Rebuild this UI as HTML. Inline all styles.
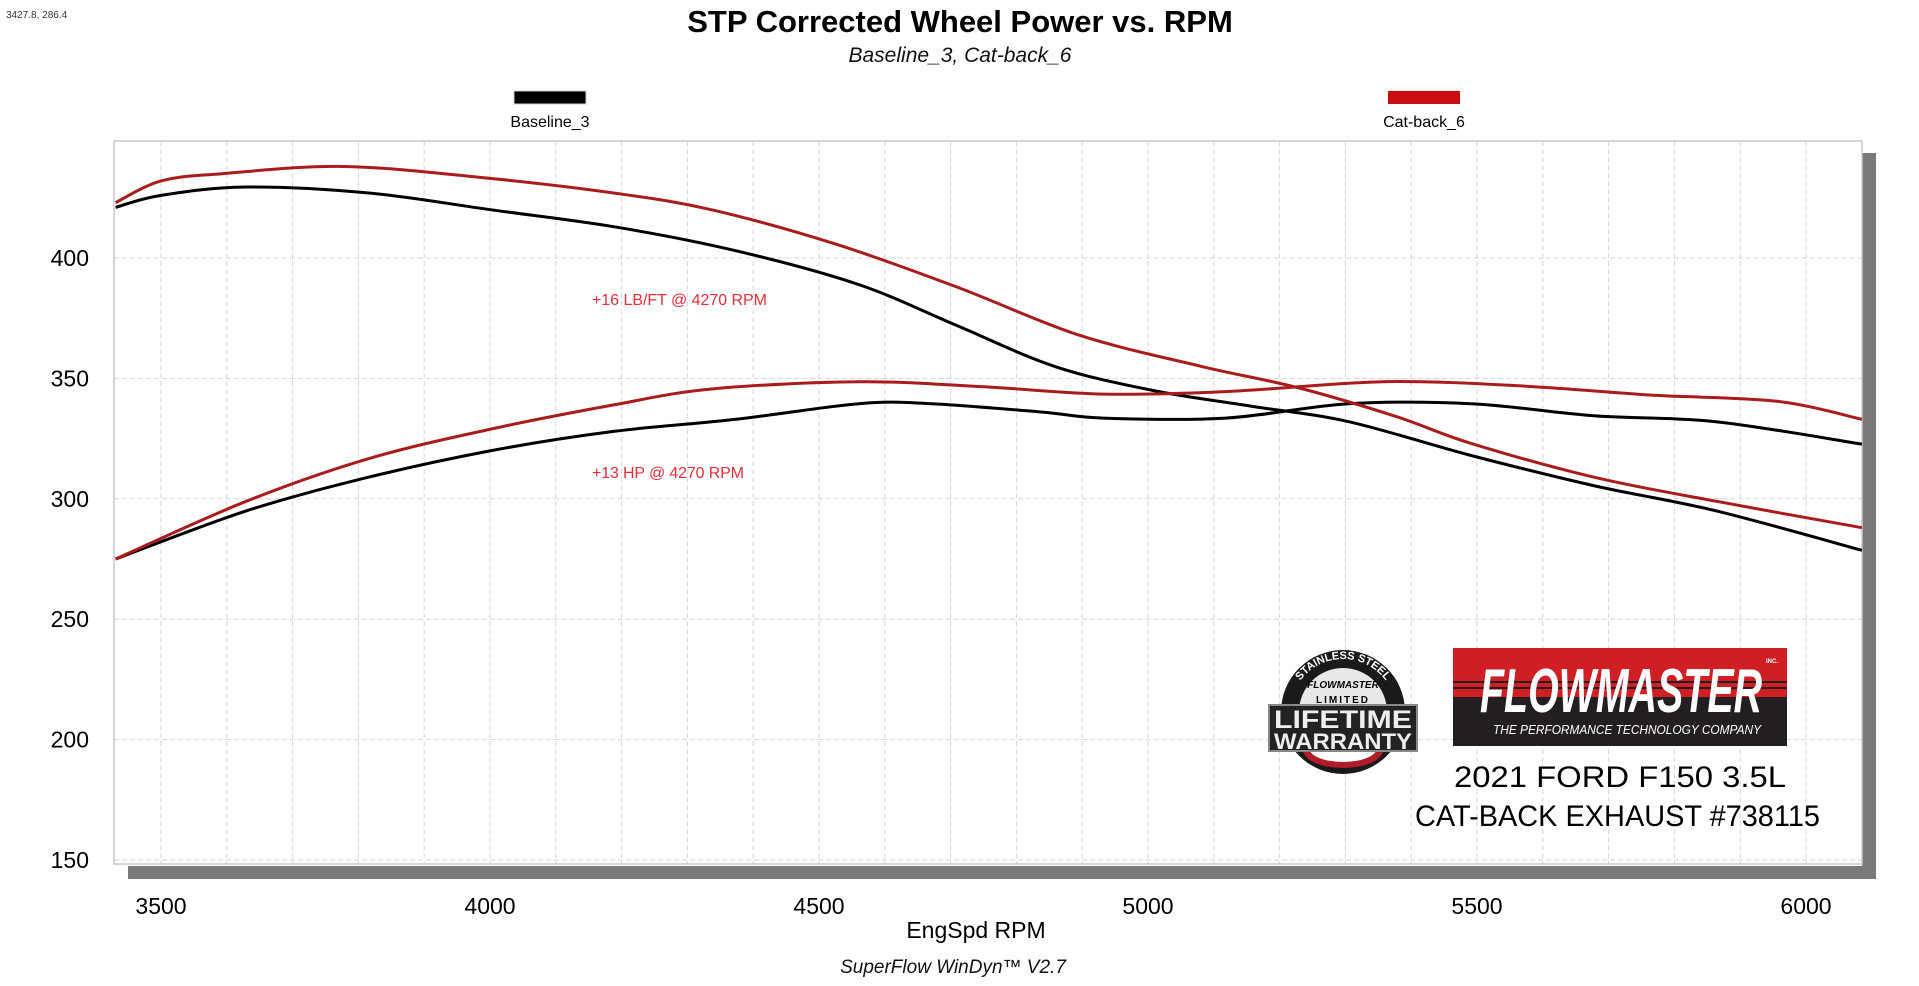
<!DOCTYPE html>
<html><head><meta charset="utf-8"><style>
html,body{margin:0;padding:0;background:#fff;}
body{width:1919px;height:981px;overflow:hidden;}
svg text{font-family:"Liberation Sans",sans-serif;}
</style></head><body>
<svg id="s" width="1919" height="981" viewBox="0 0 1919 981" xmlns="http://www.w3.org/2000/svg">
<rect width="1919" height="981" fill="#fff"/>
<text x="6" y="18" font-size="10" fill="#333">3427.8, 286.4</text>
<text x="960" y="32" font-size="31" font-weight="bold" text-anchor="middle" fill="#000">STP Corrected Wheel Power vs. RPM</text>
<text x="960" y="62" font-size="21" font-style="italic" text-anchor="middle" fill="#111">Baseline_3, Cat-back_6</text>
<rect x="514" y="91" width="72" height="13" fill="#000" stroke="#ccc" stroke-width="1"/>
<text x="550" y="127" font-size="16" text-anchor="middle" fill="#000">Baseline_3</text>
<rect x="1388" y="91" width="72" height="13" fill="#cc0e0e"/>
<text x="1424" y="127" font-size="16" text-anchor="middle" fill="#000">Cat-back_6</text>
<rect x="1862" y="153" width="14" height="726" fill="#7a7a7a"/>
<rect x="128" y="866" width="1748" height="13" fill="#7a7a7a"/>
<g id="grid"></g>
<rect x="114" y="141" width="1748" height="723" fill="none" stroke="#c8c8c8" stroke-width="1.5"/>
<g id="labels" font-size="23" fill="#000"></g>
<text x="976" y="938" font-size="23" text-anchor="middle" fill="#000">EngSpd  RPM</text>
<text x="953" y="973" font-size="19" font-style="italic" text-anchor="middle" fill="#111">SuperFlow WinDyn™ V2.7</text>
<text x="592" y="305" font-size="16" fill="#e0303c" textLength="175">+16 LB/FT @ 4270 RPM</text>
<text x="592" y="478" font-size="16" fill="#e0303c" textLength="152">+13 HP @ 4270 RPM</text>
<g id="curves" fill="none" stroke-width="3" stroke-linejoin="round"></g>
<defs><path id="arc" d="M1290,712 A53,53 0 0 1 1396,712"/></defs>
<g>
<ellipse cx="1343" cy="712" rx="62" ry="62" fill="#1a1a1a"/>
<ellipse cx="1343" cy="712" rx="44" ry="44" fill="#e8e8e8"/>
<ellipse cx="1343" cy="750" rx="40" ry="18" fill="#b01c2a"/>
<ellipse cx="1343" cy="748" rx="34" ry="14" fill="#fff"/>
<text font-size="11" font-weight="bold" fill="#fff"><textPath href="#arc" startOffset="50%" text-anchor="middle">STAINLESS STEEL</textPath></text>
<text x="1343" y="688" font-size="10" font-style="italic" font-weight="bold" text-anchor="middle" fill="#000">FLOWMASTER</text>
<text x="1343" y="703" font-size="10" font-weight="bold" text-anchor="middle" fill="#000" letter-spacing="2">LIMITED</text>
<rect x="1269" y="705" width="148" height="46" fill="#222" stroke="#888" stroke-width="2"/>
<text x="1343" y="728" font-size="25" font-weight="bold" text-anchor="middle" fill="#eee" textLength="138" lengthAdjust="spacingAndGlyphs">LIFETIME</text>
<text x="1343" y="749" font-size="22" font-weight="bold" text-anchor="middle" fill="#eee" textLength="138" lengthAdjust="spacingAndGlyphs">WARRANTY</text>
</g>
<g>
<rect x="1453" y="648" width="334" height="98" fill="#cf1f25"/>
<rect x="1453" y="697" width="334" height="49" fill="#231f20"/>
<rect x="1453" y="681" width="334" height="2" fill="#231f20"/>
<rect x="1453" y="687" width="334" height="2" fill="#231f20"/>
<text x="1480" y="712" font-size="62" font-weight="bold" font-style="italic" fill="#fff" textLength="282" lengthAdjust="spacingAndGlyphs">FLOWMASTER</text>
<text x="1493" y="734" font-size="13" font-style="italic" fill="#fff" textLength="268" lengthAdjust="spacingAndGlyphs">THE PERFORMANCE TECHNOLOGY COMPANY</text>
<text x="1766" y="663" font-size="6" font-weight="bold" fill="#fff">INC.</text>
</g>
<text x="1454" y="787" font-size="30" fill="#000" textLength="332" lengthAdjust="spacingAndGlyphs">2021 FORD F150 3.5L</text>
<text x="1415" y="826" font-size="30" fill="#000" textLength="405" lengthAdjust="spacingAndGlyphs">CAT-BACK EXHAUST #738115</text>
</svg>
<script>
var NS="http://www.w3.org/2000/svg";
function X(r){return 161+(r-3500)*0.658;}
function Y(v){return 860-(v-150)*2.408;}
function el(t,a,p){var e=document.createElementNS(NS,t);for(var k in a)e.setAttribute(k,a[k]);p.appendChild(e);return e;}
var g=document.getElementById('grid');
for(var r=3500;r<=6000;r+=100){el('line',{x1:X(r),x2:X(r),y1:141,y2:864,stroke:'#d6d6d6','stroke-width':1,'stroke-dasharray':'5,3'},g);}
for(var v=150;v<=400;v+=50){el('line',{x1:114,x2:1862,y1:Y(v),y2:Y(v),stroke:'#d6d6d6','stroke-width':1,'stroke-dasharray':'5,3'},g);}
var L=document.getElementById('labels');
for(var v=150;v<=400;v+=50){var t=el('text',{x:89,y:Y(v)+8,'text-anchor':'end'},L);t.textContent=v;}
for(var r=3500;r<=6000;r+=500){var t=el('text',{x:X(r),y:914,'text-anchor':'middle'},L);t.textContent=r;}
function path(pts){var p=pts.map(function(q){return [X(q[0]),Y(q[1])];});
var d='M'+p[0][0].toFixed(1)+','+p[0][1].toFixed(1);
for(var i=0;i<p.length-1;i++){var p0=p[i-1]||p[i],p1=p[i],p2=p[i+1],p3=p[i+2]||p2;
var c1=[p1[0]+(p2[0]-p0[0])/6,p1[1]+(p2[1]-p0[1])/6],c2=[p2[0]-(p3[0]-p1[0])/6,p2[1]-(p3[1]-p1[1])/6];
d+='C'+c1[0].toFixed(1)+','+c1[1].toFixed(1)+' '+c2[0].toFixed(1)+','+c2[1].toFixed(1)+' '+p2[0].toFixed(1)+','+p2[1].toFixed(1);}
return d;}
var C=document.getElementById('curves');
var bt=[[3431,421],[3500,426],[3630,429.5],[3816,427],[4002,420],[4188,413],[4374,403],[4560,389],[4709,372],[4858,355],[5007,345],[5156,338.5],[5305,332],[5491,318],[5677,305.5],[5863,295],[6085,278.6]];
var bh=[[3431,275],[3630,295],[3816,309],[4002,320],[4188,328],[4374,333],[4560,339.5],[4671,339.5],[4839,336],[4932,333.5],[5118,333.5],[5305,339.5],[5491,339.5],[5677,334.5],[5863,332],[6085,322.7]];
var rt=[[3431,423],[3500,432],[3593,435],[3779,438],[4002,433],[4188,427],[4337,420],[4523,406],[4709,388],[4895,368],[5081,355],[5230,346],[5379,334],[5491,323],[5677,309],[5863,299],[6085,288]];
var rh=[[3431,275],[3630,299],[3816,316.7],[4002,329],[4188,339],[4337,345.6],[4560,348.6],[4746,346.6],[4932,343.5],[5118,344.5],[5305,348],[5416,348.6],[5584,346.6],[5770,343],[5956,340.5],[6085,333]];
[[bt,'#000'],[bh,'#000'],[rt,'#a81c1c'],[rh,'#a81c1c']].forEach(function(s){el('path',{d:path(s[0]),stroke:s[1]},C);});
</script>
</body></html>
